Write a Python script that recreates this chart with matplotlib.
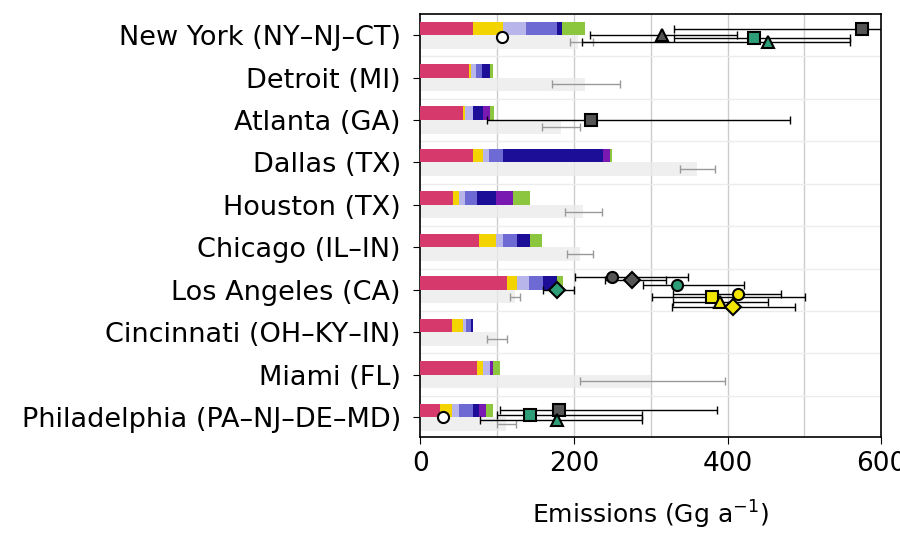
import numpy as np
import matplotlib
matplotlib.use("Agg")
import matplotlib.pyplot as plt

# cities, top to bottom
cities = ["New York (NY–NJ–CT)", "Detroit (MI)", "Atlanta (GA)", "Dallas (TX)",
          "Houston (TX)", "Chicago (IL–IN)", "Los Angeles (CA)",
          "Cincinnati (OH–KY–IN)", "Miami (FL)", "Philadelphia (PA–NJ–DE–MD)"]

# inventory sector contributions (Gg/a), stacked left to right
sec_pink   = [68, 63, 55, 68, 43, 76, 113, 41, 74, 26]
sec_yellow = [40,  3,  3, 14,  7, 22,  13, 14,  8, 15]
sec_lav    = [29,  6, 10,  8,  8, 10,  15,  4,  9,  9]
sec_blue   = [41,  8,  0, 18, 16, 18,  19,  7,  0, 18]
sec_navy   = [ 7, 11, 14, 130, 24, 17, 18,  3,  0,  8]
sec_purple = [ 0,  0,  9,  9, 23,  0,   0,  0,  4,  9]
sec_green  = [30,  4,  5,  3, 22, 15,   8,  0,  9, 10]
sectors = [sec_pink, sec_yellow, sec_lav, sec_blue, sec_navy, sec_purple, sec_green]
sector_colors = ["#d63a6c", "#f4d400", "#b7b5ea", "#6d6ad4", "#1d0e98", "#7a18b2", "#8cc63f"]

# second inventory (grey bars) with ranges
grey_val = [205, 215, 183, 360, 212, 208, 123, 100, 300, 112]
grey_lo  = [195, 172, 158, 338, 189, 191, 117,  87, 208, 100]
grey_hi  = [225, 260, 208, 384, 237, 225, 130, 113, 397, 125]

# top-down estimates: city index, value, low, high, marker, colour, row offset
est_city   = [0, 0, 0, 0, 0, 2, 6, 6, 6, 6, 6, 6, 6, 6, 9, 9, 9, 9]
est_val    = [107, 315, 575, 434, 453, 222, 178, 250, 276, 334, 380, 414, 390, 407, 29, 143, 180, 178]
est_lo     = [107, 221, 330, 330, 211, 87, 160, 202, 240, 290, 302, 329, 329, 328, 29, 100, 104, 78]
est_hi     = [107, 413, 640, 560, 560, 482, 200, 348, 320, 421, 501, 470, 453, 488, 29, 289, 386, 289]
est_marker = ["o", "^", "s", "s", "^", "s", "D", "o", "D", "o", "s", "o", "^", "D", "o", "s", "s", "^"]
est_color  = ["white", "#555555", "#555555", "#2e9e78", "#2e9e78", "#555555", "#2e9e78", "#555555",
              "#555555", "#2e9e78", "#f2e600", "#f2e600", "#f2e600", "#f2e600", "white", "#2e9e78",
              "#555555", "#2e9e78"]
est_off    = [0.05, 0.0, -0.14, 0.07, 0.17, 0.0, 0.0, -0.3, -0.24, -0.12, 0.16, 0.1, 0.28, 0.4,
              0.0, -0.05, -0.17, 0.07]

fig = plt.figure(figsize=(9, 5.35), dpi=100)
ax = fig.add_axes([0.467, 0.183, 0.512, 0.791])

y = np.arange(len(cities))
bh = 0.32

left = np.zeros(len(cities))
for vals, col in zip(sectors, sector_colors):
    ax.barh(y - bh / 2, vals, height=bh, left=left, color=col, zorder=3)
    left += np.array(vals)

grey_val = np.array(grey_val)
ax.barh(y + bh / 2, grey_val, height=bh, color="#ebebeb", alpha=0.8, zorder=2)
ax.errorbar(grey_val, y + bh / 2,
            xerr=[grey_val - np.array(grey_lo), np.array(grey_hi) - grey_val],
            fmt="none", ecolor="#999999", elinewidth=1, capsize=3, zorder=2.5)

for c, v, lo, hi, m, col, off in zip(est_city, est_val, est_lo, est_hi, est_marker, est_color, est_off):
    yy = c + off
    if hi > lo:
        ax.errorbar(v, yy, xerr=[[v - lo], [hi - v]], fmt="none", ecolor="black",
                    elinewidth=1, capsize=3, zorder=4)
    ax.plot(v, yy, marker=m, markersize=8, markerfacecolor=col, markeredgecolor="black",
            markeredgewidth=1.5, linestyle="none", zorder=5)

for gx in [100, 200, 300, 400, 500]:
    ax.axvline(gx, color="#cccccc", lw=1, zorder=0)
for gy in y[:-1] + 0.5:
    ax.axhline(gy, color="#ececec", lw=1, zorder=0)

ax.set_xlim(0, 600)
ax.set_ylim(len(cities) - 0.53, -0.5)
ax.set_yticks(y)
ax.set_yticklabels(cities, fontsize=19.5)
ax.set_xticks([0, 200, 400, 600])
ax.tick_params(axis="x", labelsize=19, length=5, pad=5)
ax.tick_params(axis="y", length=5, pad=9)
ax.set_xlabel("Emissions (Gg a$^{-1}$)", fontsize=18, labelpad=16)
for s in ax.spines.values():
    s.set_linewidth(1.2)

fig.savefig("out.png", dpi=100)
